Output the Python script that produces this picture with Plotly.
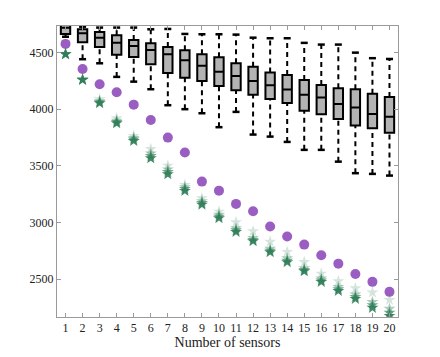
"""Box plots of the cost per number of sensors, with greedy / optimal markers."""

import plotly.graph_objects as go

SENSORS = list(range(1, 21))

# box statistics
WHISKER_LOW = [4640, 4442, 4406, 4286, 4244, 4177, 4036, 4001, 3965, 3842,
               3977, 3777, 3759, 3712, 3642, 3642, 3538, 3436, 3430, 3415]
Q1 = [4665, 4592, 4550, 4482, 4462, 4398, 4321, 4279, 4250, 4206,
      4168, 4129, 4091, 4056, 3988, 3956, 3915, 3856, 3833, 3794]
MEDIAN = [4720, 4671, 4632, 4588, 4559, 4524, 4486, 4433, 4385, 4332,
          4294, 4250, 4212, 4174, 4129, 4103, 4047, 4015, 3959, 3935]
Q3 = [4760, 4706, 4683, 4654, 4612, 4583, 4550, 4521, 4486, 4459,
      4406, 4376, 4324, 4303, 4259, 4215, 4186, 4177, 4138, 4109]
WHISKER_HIGH = [4790, 4729, 4721, 4721, 4721, 4706, 4709, 4665, 4662, 4662,
                4659, 4632, 4627, 4627, 4586, 4571, 4571, 4500, 4451, 4444]

CIRCLES = [4577, 4356, 4221, 4150, 4041, 3906, 3750, 3618, 3362, 3282,
           3165, 3100, 2965, 2877, 2806, 2712, 2638, 2547, 2477, 2389]

# star series, from palest to darkest
STARS_LIGHT = [4490, 4268, 4089, 3921, 3765, 3650, 3503, 3333, 3215, 3097,
               3004, 2924, 2832, 2742, 2653, 2550, 2483, 2421, 2383, 2318]
STARS_MID1 = [4488, 4263, 4072, 3900, 3748, 3610, 3470, 3312, 3190, 3070,
              2950, 2865, 2770, 2685, 2598, 2508, 2432, 2365, 2300, 2240]
STARS_MID2 = [4487, 4261, 4062, 3888, 3733, 3588, 3447, 3296, 3174, 3053,
              2932, 2848, 2752, 2664, 2582, 2490, 2412, 2344, 2272, 2205]
STARS_DARK = [4486, 4259, 4054, 3877, 3721, 3568, 3427, 3280, 3159, 3039,
              2918, 2836, 2739, 2651, 2571, 2477, 2397, 2327, 2248, 2177]

GREEN = "#2e7d57"
PURPLE = "#9a5ec3"
AXIS_GREY = "#9a9a9a"
FONT = "Liberation Serif"

fig = go.Figure()

# dashed whiskers (outside the box only)
wx, wy = [], []
for s, lo, a, b, hi in zip(SENSORS, WHISKER_LOW, Q1, Q3, WHISKER_HIGH):
    wx += [s, s, None, s, s, None]
    wy += [lo, a, None, b, hi, None]
fig.add_trace(go.Scatter(
    x=wx, y=wy, mode="lines",
    line=dict(color="black", width=2, dash="5px,4px"),
    hoverinfo="skip", showlegend=False,
))
# whisker caps
fig.add_trace(go.Scatter(
    x=SENSORS + SENSORS, y=WHISKER_LOW + WHISKER_HIGH, mode="markers",
    marker=dict(symbol="line-ew", size=5, line=dict(color="black", width=2.5)),
    hoverinfo="skip", showlegend=False,
))

fig.add_trace(go.Box(
    x=SENSORS, q1=Q1, median=MEDIAN, q3=Q3,
    lowerfence=Q1, upperfence=Q3,
    fillcolor="#b3b3b3", line=dict(color="black", width=2),
    width=0.55, whiskerwidth=0, boxpoints=False, showlegend=False,
))

fig.add_trace(go.Scatter(
    x=SENSORS, y=CIRCLES, mode="markers",
    marker=dict(symbol="circle", size=10, color=PURPLE),
    showlegend=False,
))

for vals, alpha in ((STARS_LIGHT, 0.2), (STARS_MID1, 0.4),
                    (STARS_MID2, 0.65), (STARS_DARK, 0.9)):
    fig.add_trace(go.Scatter(
        x=SENSORS, y=vals, mode="markers",
        marker=dict(symbol="star", size=9, color=GREEN, opacity=alpha,
                    line=dict(width=0)),
        showlegend=False,
    ))

axis_common = dict(
    showline=True, linecolor=AXIS_GREY, linewidth=1, mirror="ticks",
    ticks="inside", ticklen=4, tickcolor=AXIS_GREY,
    showgrid=False, zeroline=False, automargin=False,
    tickfont=dict(family=FONT, size=12, color="#222"),
)

# the page body has an 8px margin, so the figure is 8px smaller each way
fig.update_layout(
    width=432, height=349,
    margin=dict(l=49, r=42, t=18, b=40),
    paper_bgcolor="white", plot_bgcolor="white",
    font=dict(family=FONT, color="#222"),
    xaxis=dict(range=[0.5, 20.5], tickmode="array", tickvals=SENSORS,
               title=dict(text="Number of sensors", font=dict(size=14), standoff=2),
               **axis_common),
    yaxis=dict(range=[2167, 4735], tickvals=[2500, 3000, 3500, 4000, 4500],
               **axis_common),
)

fig.write_html("out.html")
